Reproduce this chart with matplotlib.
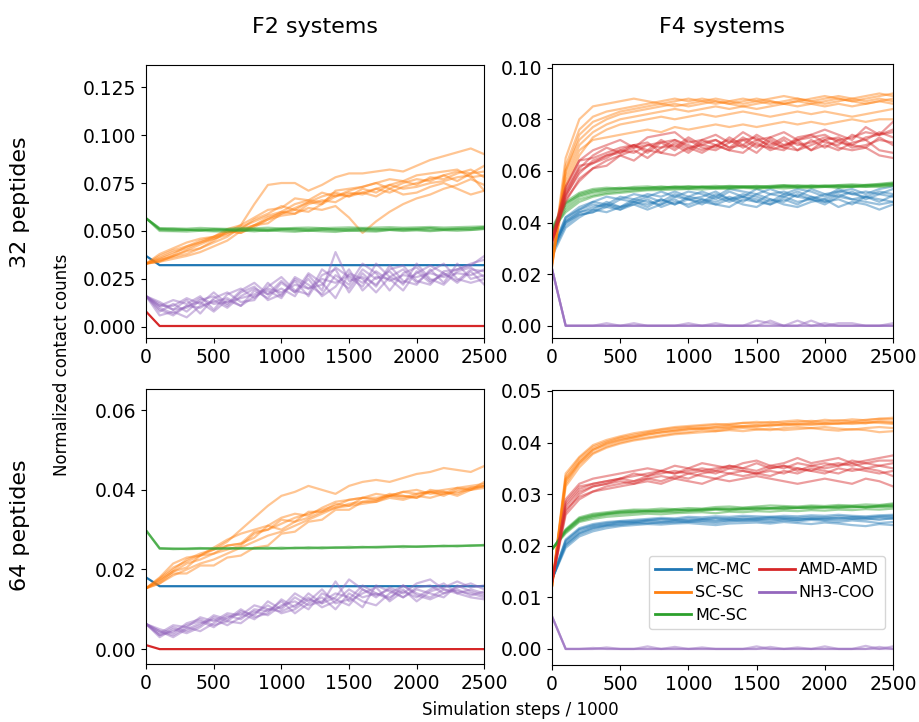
import numpy as np
import matplotlib.pyplot as plt
from matplotlib.lines import Line2D

# simulation steps / 1000
steps = [0, 100, 200, 300, 400, 500, 600, 700, 800, 900, 1000, 1100, 1200,
         1300, 1400, 1500, 1600, 1700, 1800, 1900, 2000, 2100, 2200, 2300, 2400, 2500]

labels = ['MC-MC', 'SC-SC', 'MC-SC', 'AMD-AMD', 'NH3-COO']
colors = ['tab:blue', 'tab:orange', 'tab:green', 'tab:red', 'tab:purple']

# all contact counts below are in units of 1e-4, one list per replicate

# ---- F2, 32 peptides
f2_32_mcmc = [[370, 322, 322, 322, 322, 322, 322, 322, 322, 322, 322, 322, 322, 322, 322, 322, 322, 322, 322, 322, 322, 322, 322, 322, 322, 322]]
f2_32_scsc = [
    [330, 345, 370, 400, 430, 460, 490, 530, 640, 740, 750, 750, 710, 740, 780, 800, 800, 810, 820, 810, 840, 870, 890, 910, 930, 900],
    [330, 355, 380, 420, 440, 470, 490, 510, 530, 560, 580, 590, 620, 610, 630, 570, 490, 550, 600, 640, 670, 690, 720, 740, 770, 740],
    [330, 340, 370, 395, 410, 450, 500, 490, 520, 560, 600, 590, 640, 660, 650, 690, 700, 680, 720, 750, 770, 760, 790, 810, 800, 840],
    [330, 370, 400, 420, 450, 470, 500, 490, 530, 570, 590, 610, 600, 640, 680, 700, 690, 720, 700, 730, 750, 770, 790, 760, 800, 810],
    [330, 350, 365, 380, 410, 440, 470, 520, 550, 580, 600, 640, 660, 650, 690, 680, 700, 720, 740, 720, 730, 750, 760, 780, 790, 710],
    [330, 380, 410, 440, 460, 470, 510, 530, 570, 610, 620, 670, 660, 700, 680, 710, 730, 750, 770, 760, 790, 800, 810, 820, 780, 790],
    [330, 340, 355, 370, 390, 420, 450, 500, 530, 540, 590, 620, 650, 640, 710, 720, 730, 750, 720, 690, 700, 730, 750, 720, 690, 710],
    [330, 360, 390, 410, 440, 460, 480, 510, 560, 590, 630, 610, 650, 680, 700, 680, 720, 700, 740, 760, 740, 780, 770, 800, 820, 780],
]
f2_32_mcsc = [
    [566, 512, 508, 506, 505, 507, 508, 505, 510, 507, 512, 509, 505, 508, 510, 507, 509, 511, 508, 512, 510, 513, 511, 512, 514, 520],
    [566, 500, 499, 497, 501, 498, 497, 503, 498, 504, 499, 496, 502, 498, 495, 503, 499, 497, 505, 500, 503, 499, 504, 501, 505, 510],
    [566, 510, 511, 507, 503, 510, 506, 510, 506, 503, 509, 512, 510, 514, 507, 511, 513, 508, 512, 509, 512, 515, 507, 511, 513, 518],
    [566, 515, 514, 512, 516, 513, 511, 516, 514, 517, 513, 516, 518, 515, 517, 519, 516, 518, 520, 517, 519, 521, 518, 520, 522, 524],
    [566, 506, 503, 505, 508, 502, 505, 501, 504, 500, 506, 503, 500, 505, 503, 500, 505, 502, 506, 504, 507, 503, 506, 508, 506, 512],
]
f2_32_amd = [[80, 5, 5, 5, 5, 5, 5, 5, 5, 5, 5, 5, 5, 5, 5, 5, 5, 5, 5, 5, 5, 5, 5, 5, 5, 5]]
f2_32_nh3 = [
    [160, 100, 70, 110, 130, 80, 140, 110, 190, 150, 230, 180, 250, 160, 210, 300, 190, 260, 250, 190, 290, 230, 280, 240, 300, 290],
    [160, 80, 120, 80, 140, 160, 110, 180, 210, 140, 170, 240, 160, 270, 300, 180, 280, 210, 320, 240, 220, 300, 230, 330, 250, 270],
    [160, 130, 90, 140, 70, 150, 180, 130, 140, 230, 160, 260, 220, 170, 270, 220, 330, 280, 190, 280, 310, 240, 270, 300, 330, 350],
    [160, 90, 60, 110, 100, 140, 100, 160, 200, 170, 240, 180, 280, 230, 150, 280, 250, 180, 260, 300, 230, 290, 330, 250, 230, 250],
    [160, 110, 140, 120, 160, 90, 170, 200, 150, 210, 260, 190, 170, 300, 250, 200, 300, 250, 290, 220, 330, 250, 220, 290, 310, 260],
    [160, 60, 80, 50, 110, 130, 150, 110, 160, 190, 150, 250, 200, 220, 310, 260, 210, 330, 260, 230, 280, 320, 280, 230, 290, 220],
    [160, 110, 110, 150, 120, 180, 120, 190, 230, 170, 200, 160, 270, 190, 390, 240, 260, 220, 300, 320, 240, 220, 290, 300, 320, 370],
    [160, 120, 90, 100, 150, 120, 130, 150, 170, 200, 180, 220, 200, 250, 230, 270, 230, 290, 240, 270, 260, 280, 260, 280, 270, 300],
]

# ---- F4, 32 peptides
f4_32_mcmc = [
    [290, 410, 450, 470, 460, 490, 480, 500, 480, 510, 490, 500, 520, 490, 500, 480, 510, 500, 520, 500, 490, 520, 510, 500, 520, 510],
    [280, 390, 430, 440, 470, 460, 480, 460, 490, 470, 490, 470, 500, 480, 500, 490, 470, 500, 480, 490, 470, 500, 490, 480, 470, 480],
    [300, 420, 460, 480, 500, 490, 510, 500, 520, 500, 520, 510, 490, 520, 500, 530, 510, 520, 500, 530, 510, 520, 530, 510, 530, 540],
    [270, 380, 420, 450, 440, 460, 470, 450, 470, 490, 460, 480, 470, 490, 470, 460, 490, 470, 460, 480, 490, 460, 480, 470, 450, 470],
    [290, 400, 440, 450, 480, 460, 490, 480, 470, 500, 490, 480, 510, 490, 510, 500, 480, 510, 500, 490, 510, 500, 520, 490, 510, 500],
    [280, 420, 450, 480, 470, 500, 490, 510, 500, 520, 500, 520, 500, 530, 520, 510, 530, 510, 530, 520, 500, 530, 510, 520, 510, 530],
    [300, 400, 430, 440, 460, 450, 470, 490, 460, 480, 470, 490, 470, 460, 490, 480, 470, 490, 470, 500, 480, 490, 470, 500, 490, 480],
    [285, 405, 440, 460, 470, 450, 480, 470, 490, 470, 500, 490, 480, 500, 480, 510, 490, 480, 510, 490, 480, 510, 490, 500, 480, 505],
]
f4_32_scsc = [
    [240, 650, 800, 850, 860, 870, 880, 870, 860, 870, 880, 870, 880, 870, 880, 870, 880, 890, 880, 870, 880, 890, 880, 890, 900, 890],
    [250, 600, 740, 790, 810, 830, 840, 850, 860, 850, 860, 870, 860, 870, 860, 870, 860, 870, 880, 870, 860, 870, 880, 870, 880, 870],
    [230, 580, 700, 750, 780, 800, 810, 820, 830, 840, 830, 840, 850, 840, 850, 840, 850, 860, 850, 860, 850, 860, 850, 860, 870, 860],
    [240, 560, 680, 720, 730, 740, 750, 760, 750, 770, 760, 770, 780, 770, 780, 770, 780, 790, 780, 790, 780, 790, 800, 790, 800, 800],
    [250, 620, 760, 810, 830, 840, 850, 860, 870, 880, 870, 880, 870, 860, 870, 880, 870, 860, 870, 880, 890, 880, 870, 880, 890, 900],
    [240, 540, 660, 730, 760, 780, 790, 800, 810, 800, 810, 820, 810, 820, 830, 820, 810, 820, 830, 820, 830, 820, 810, 820, 830, 840],
    [230, 600, 720, 770, 800, 820, 830, 840, 850, 860, 850, 860, 870, 860, 850, 860, 870, 860, 870, 860, 870, 880, 870, 860, 870, 880],
]
f4_32_mcsc = [
    [370, 470, 510, 525, 530, 535, 530, 535, 540, 535, 540, 538, 535, 540, 538, 542, 538, 540, 545, 540, 538, 542, 545, 540, 545, 550],
    [380, 480, 515, 530, 535, 532, 538, 540, 535, 540, 536, 540, 542, 538, 540, 536, 540, 544, 540, 538, 544, 540, 538, 545, 548, 552],
    [360, 450, 490, 505, 515, 520, 525, 528, 530, 532, 530, 535, 532, 535, 536, 532, 535, 538, 535, 538, 540, 536, 540, 538, 542, 545],
    [370, 440, 480, 500, 510, 515, 520, 525, 526, 528, 530, 528, 532, 530, 534, 532, 535, 532, 536, 534, 538, 535, 538, 540, 538, 542],
    [375, 475, 505, 520, 528, 530, 534, 532, 536, 538, 540, 536, 538, 542, 540, 538, 542, 545, 540, 544, 542, 545, 548, 545, 550, 555],
    [365, 460, 500, 515, 522, 528, 530, 533, 531, 536, 534, 538, 536, 534, 538, 540, 537, 540, 538, 542, 540, 544, 540, 546, 544, 548],
]
f4_32_amd = [
    [330, 520, 610, 660, 690, 670, 700, 680, 720, 690, 730, 700, 690, 730, 700, 740, 710, 690, 730, 740, 710, 700, 740, 720, 750, 730],
    [320, 500, 600, 630, 650, 680, 700, 710, 670, 710, 680, 720, 700, 680, 720, 690, 730, 700, 710, 680, 720, 730, 700, 690, 730, 700],
    [340, 540, 640, 680, 700, 720, 690, 730, 740, 750, 710, 720, 740, 710, 750, 720, 730, 750, 720, 740, 760, 740, 720, 770, 740, 790],
    [330, 480, 570, 610, 640, 660, 640, 680, 670, 660, 690, 670, 700, 680, 670, 710, 680, 700, 720, 680, 700, 680, 710, 720, 680, 670],
    [320, 510, 620, 630, 660, 680, 670, 700, 710, 720, 690, 700, 720, 690, 730, 700, 690, 680, 720, 730, 740, 710, 700, 730, 740, 750],
    [340, 530, 640, 650, 670, 690, 700, 670, 710, 680, 720, 690, 680, 710, 720, 730, 690, 720, 680, 700, 720, 690, 680, 690, 660, 650],
    [330, 490, 560, 610, 620, 660, 680, 650, 690, 700, 670, 710, 720, 690, 700, 670, 720, 690, 680, 720, 690, 720, 730, 750, 740, 760],
    [325, 505, 590, 640, 660, 670, 690, 700, 690, 720, 700, 680, 700, 720, 690, 720, 700, 730, 700, 710, 730, 720, 690, 700, 720, 710],
]
f4_32_nh3 = [
    [220, 0, 0, 0, 0, 0, 0, 0, 0, 0, 0, 0, 0, 0, 0, 0, 0, 0, 0, 0, 0, 0, 0, 0, 0, 0],
    [220, 0, 0, 0, 10, 0, 0, 0, 0, 0, 10, 0, 0, 0, 0, 20, 10, 0, 0, 0, 10, 0, 0, 0, 0, 10],
    [220, 0, 0, 0, 0, 0, 10, 0, 0, 0, 0, 0, 10, 0, 0, 0, 20, 0, 20, 0, 0, 10, 10, 0, 0, 0],
    [220, 0, 0, 0, 0, 0, 0, 0, 0, 0, 0, 0, 0, 0, 0, 0, 0, 0, 0, 20, 0, 0, 0, 0, 0, 0],
]

# ---- F2, 64 peptides
f2_64_mcmc = [[180, 158, 158, 158, 158, 158, 158, 158, 158, 158, 158, 158, 158, 158, 158, 158, 158, 158, 158, 158, 158, 158, 158, 158, 158, 158]]
f2_64_scsc = [
    [153, 175, 200, 225, 240, 250, 270, 300, 330, 360, 385, 395, 410, 400, 390, 410, 420, 425, 420, 430, 440, 445, 455, 450, 445, 460],
    [153, 170, 195, 205, 235, 240, 260, 265, 295, 300, 325, 320, 345, 345, 365, 360, 380, 375, 390, 385, 380, 400, 395, 390, 405, 410],
    [153, 180, 215, 230, 235, 250, 260, 265, 280, 310, 300, 320, 330, 345, 355, 360, 365, 370, 380, 375, 385, 380, 390, 395, 400, 405],
    [153, 165, 185, 200, 215, 225, 240, 255, 270, 285, 295, 310, 325, 340, 355, 365, 370, 375, 385, 380, 390, 395, 385, 400, 405, 410],
    [153, 172, 195, 215, 225, 240, 250, 260, 290, 300, 315, 330, 340, 350, 360, 375, 380, 380, 385, 395, 390, 395, 400, 405, 410, 415],
    [153, 165, 190, 190, 210, 210, 230, 235, 255, 260, 290, 295, 320, 325, 350, 350, 370, 370, 385, 385, 380, 395, 390, 405, 400, 410],
    [153, 178, 205, 220, 235, 255, 275, 290, 300, 310, 330, 340, 335, 355, 370, 375, 380, 390, 385, 395, 400, 390, 395, 385, 400, 420],
]
f2_64_mcsc = [
    [298, 253, 252, 253, 254, 252, 253, 254, 252, 253, 255, 253, 254, 256, 254, 255, 257, 255, 256, 258, 257, 258, 259, 258, 260, 261],
    [298, 252, 253, 251, 252, 254, 252, 253, 254, 252, 253, 255, 253, 254, 256, 254, 256, 257, 258, 256, 258, 259, 258, 260, 259, 262],
    [298, 254, 251, 252, 253, 252, 254, 252, 253, 255, 252, 254, 256, 253, 255, 257, 255, 256, 257, 259, 257, 258, 260, 259, 261, 260],
]
f2_64_amd = [[10, 0, 0, 0, 0, 0, 0, 0, 0, 0, 0, 0, 0, 0, 0, 0, 0, 0, 0, 0, 0, 0, 0, 0, 0, 0]]
f2_64_nh3 = [
    [63, 35, 45, 60, 70, 55, 80, 90, 75, 100, 95, 110, 130, 105, 120, 150, 130, 140, 125, 160, 140, 130, 150, 145, 140, 130],
    [63, 45, 30, 50, 65, 75, 60, 80, 95, 85, 110, 120, 100, 140, 125, 110, 150, 135, 150, 130, 155, 160, 140, 150, 135, 145],
    [63, 30, 50, 40, 55, 80, 70, 65, 90, 110, 90, 100, 125, 115, 170, 120, 140, 155, 120, 145, 130, 150, 165, 140, 150, 140],
    [63, 40, 60, 55, 45, 65, 85, 75, 100, 95, 120, 90, 115, 130, 100, 140, 120, 110, 140, 160, 135, 125, 140, 155, 165, 150],
    [63, 50, 40, 65, 75, 60, 70, 95, 85, 120, 100, 130, 110, 120, 140, 130, 105, 160, 145, 130, 150, 140, 130, 160, 145, 135],
    [63, 35, 55, 45, 60, 85, 75, 100, 80, 90, 125, 105, 140, 115, 130, 175, 150, 130, 155, 140, 165, 175, 150, 140, 130, 125],
    [63, 45, 35, 55, 80, 70, 90, 85, 110, 100, 105, 140, 120, 150, 115, 125, 160, 140, 130, 150, 120, 145, 155, 170, 155, 160],
]

# ---- F4, 64 peptides
f4_64_mcmc = [
    [135, 208, 230, 238, 242, 246, 248, 250, 252, 251, 253, 252, 254, 253, 255, 254, 256, 255, 254, 256, 255, 257, 256, 255, 257, 258],
    [135, 200, 222, 232, 238, 240, 243, 245, 244, 247, 246, 248, 247, 249, 248, 250, 249, 251, 250, 252, 251, 250, 252, 251, 253, 252],
    [135, 212, 234, 242, 246, 248, 250, 252, 254, 253, 256, 255, 257, 256, 258, 257, 256, 258, 257, 259, 258, 260, 258, 257, 259, 260],
    [135, 196, 218, 228, 234, 238, 240, 242, 241, 243, 244, 242, 240, 243, 244, 245, 243, 246, 244, 242, 245, 243, 240, 238, 242, 240],
    [135, 204, 226, 236, 240, 244, 246, 248, 247, 249, 250, 251, 249, 252, 251, 253, 252, 254, 253, 252, 254, 253, 255, 254, 256, 255],
    [135, 210, 232, 240, 244, 247, 245, 249, 251, 250, 248, 251, 253, 250, 252, 251, 254, 252, 250, 253, 251, 254, 252, 253, 250, 254],
    [135, 202, 224, 234, 239, 242, 244, 243, 246, 245, 247, 246, 244, 247, 249, 248, 246, 249, 247, 250, 248, 246, 249, 247, 244, 246],
]
f4_64_scsc = [
    [122, 335, 370, 392, 402, 410, 415, 420, 425, 428, 430, 432, 434, 436, 438, 437, 440, 438, 440, 442, 440, 443, 441, 444, 446, 448],
    [122, 320, 360, 385, 398, 405, 410, 415, 420, 422, 425, 428, 430, 428, 432, 434, 432, 435, 436, 434, 436, 438, 436, 438, 440, 438],
    [122, 330, 365, 388, 400, 408, 412, 418, 422, 425, 428, 426, 430, 433, 430, 432, 435, 433, 436, 438, 435, 437, 440, 437, 442, 440],
    [122, 325, 358, 380, 392, 400, 406, 410, 414, 418, 420, 424, 422, 426, 428, 426, 424, 428, 430, 428, 430, 427, 425, 428, 430, 428],
    [122, 340, 372, 395, 405, 412, 418, 422, 426, 430, 432, 434, 436, 434, 438, 440, 438, 441, 443, 440, 444, 442, 445, 443, 446, 445],
    [122, 315, 352, 378, 390, 398, 404, 408, 412, 416, 418, 420, 422, 424, 422, 425, 427, 424, 426, 428, 425, 423, 426, 424, 420, 422],
    [122, 328, 362, 386, 396, 404, 410, 416, 419, 423, 426, 428, 426, 430, 432, 430, 434, 436, 434, 436, 438, 436, 438, 440, 438, 436],
]
f4_64_mcsc = [
    [193, 230, 252, 258, 262, 265, 266, 268, 267, 270, 268, 270, 271, 272, 270, 273, 272, 274, 273, 275, 274, 275, 276, 274, 276, 278],
    [193, 226, 248, 255, 260, 262, 264, 265, 266, 265, 267, 268, 270, 268, 271, 270, 272, 271, 273, 272, 274, 273, 274, 276, 275, 276],
    [193, 232, 255, 262, 265, 268, 270, 270, 272, 271, 273, 272, 275, 276, 274, 276, 278, 277, 276, 278, 277, 279, 278, 280, 279, 282],
    [193, 224, 246, 252, 256, 258, 260, 262, 261, 263, 264, 265, 263, 266, 265, 267, 266, 268, 267, 269, 268, 270, 269, 271, 270, 272],
    [193, 228, 250, 257, 261, 264, 265, 267, 266, 268, 270, 269, 271, 270, 272, 271, 273, 272, 274, 273, 275, 274, 276, 275, 277, 276],
    [193, 230, 253, 260, 263, 266, 268, 267, 269, 270, 269, 271, 272, 271, 273, 274, 273, 275, 274, 276, 275, 277, 276, 275, 278, 280],
]
f4_64_amd = [
    [130, 280, 310, 320, 325, 330, 335, 340, 345, 340, 350, 345, 350, 355, 350, 345, 355, 350, 360, 355, 350, 355, 360, 350, 355, 350],
    [130, 265, 300, 315, 320, 325, 320, 330, 335, 330, 340, 335, 330, 340, 345, 340, 335, 345, 340, 350, 345, 340, 350, 345, 340, 345],
    [130, 290, 320, 330, 335, 340, 345, 350, 345, 355, 350, 360, 355, 350, 360, 365, 355, 360, 370, 360, 365, 370, 360, 365, 370, 375],
    [130, 270, 295, 305, 310, 315, 320, 325, 320, 330, 325, 320, 330, 325, 330, 335, 330, 325, 320, 325, 330, 325, 320, 330, 325, 315],
    [130, 285, 315, 320, 325, 330, 340, 335, 345, 340, 345, 350, 345, 355, 350, 360, 350, 355, 345, 355, 360, 355, 365, 360, 355, 360],
    [130, 260, 290, 305, 315, 320, 325, 330, 325, 335, 330, 340, 345, 340, 335, 340, 345, 340, 350, 345, 340, 350, 345, 350, 345, 335],
    [130, 275, 305, 315, 320, 330, 325, 335, 340, 345, 340, 345, 340, 350, 345, 340, 350, 355, 350, 345, 355, 360, 355, 360, 365, 365],
]
f4_64_nh3 = [
    [63, 0, 0, 0, 0, 0, 0, 0, 0, 0, 0, 0, 0, 0, 0, 0, 0, 0, 0, 0, 0, 0, 0, 0, 0, 0],
    [63, 0, 0, 0, 3, 0, 0, 0, 0, 4, 0, 0, 0, 0, 0, 5, 0, 0, 3, 0, 0, 0, 0, 6, 0, 5],
    [63, 0, 0, 2, 0, 0, 0, 5, 0, 0, 0, 3, 0, 0, 0, 0, 4, 0, 0, 0, 5, 0, 0, 0, 4, 0],
]

panels = [
    [f2_32_mcmc, f2_32_scsc, f2_32_mcsc, f2_32_amd, f2_32_nh3],
    [f4_32_mcmc, f4_32_scsc, f4_32_mcsc, f4_32_amd, f4_32_nh3],
    [f2_64_mcmc, f2_64_scsc, f2_64_mcsc, f2_64_amd, f2_64_nh3],
    [f4_64_mcmc, f4_64_scsc, f4_64_mcsc, f4_64_amd, f4_64_nh3],
]
ylims = [(-0.0057, 0.1365), (-0.0047, 0.1016), (-0.0038, 0.0653), (-0.0031, 0.0502)]
ystep = [0.025, 0.02, 0.02, 0.01]
yfmt = ['%.3f', '%.2f', '%.2f', '%.2f']

fig = plt.figure(figsize=(9.19, 7.22), dpi=100)
rects = [[0.159, 0.532, 0.368, 0.378], [0.6007, 0.532, 0.371, 0.380],
         [0.159, 0.080, 0.368, 0.381], [0.6007, 0.079, 0.371, 0.381]]

x = np.array(steps)
for k in range(4):
    ax = fig.add_axes(rects[k])
    for reps, c in zip(panels[k], colors):
        a = 0.45 if len(reps) > 1 else 1.0
        for r in reps:
            ax.plot(x, np.array(r) / 1e4, color=c, alpha=a, lw=1.6)
    ax.set_xlim(0, 2500)
    ax.set_ylim(*ylims[k])
    ax.set_xticks(range(0, 2501, 500))
    ax.set_yticks(np.arange(0, ylims[k][1] + 1e-9, ystep[k]))
    ax.yaxis.set_major_formatter(plt.FormatStrFormatter(yfmt[k]))
    ax.tick_params(labelsize=13.5)
    if k == 3:
        handles = [Line2D([], [], color=c, lw=2) for c in colors]
        ax.legend(handles, labels, ncol=2, loc='lower right',
                  bbox_to_anchor=(1.0, 0.1), fontsize=11.5,
                  handlelength=2.25, handletextpad=0.25, columnspacing=0.5)

fig.text(0.343, 0.962, 'F2 systems', ha='center', va='center', fontsize=16)
fig.text(0.786, 0.962, 'F4 systems', ha='center', va='center', fontsize=16)
fig.text(0.022, 0.72, '32 peptides', ha='center', va='center', rotation=90, fontsize=16)
fig.text(0.022, 0.273, '64 peptides', ha='center', va='center', rotation=90, fontsize=16)
fig.text(0.067, 0.495, 'Normalized contact counts', ha='center', va='center', rotation=90, fontsize=12)
fig.text(0.566, 0.017, 'Simulation steps / 1000', ha='center', va='center', fontsize=12)

fig.savefig('out.png', dpi=100)
